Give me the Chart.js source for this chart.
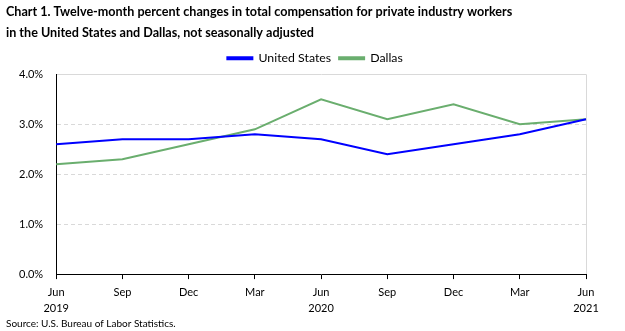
<!DOCTYPE html>
<html>
<head>
<meta charset="utf-8">
<script src="https://cdn.jsdelivr.net/npm/chart.js@4"></script>
<style>
  body { margin: 0; background: #fff; }
  #wrap { width: 625px; height: 331px; }
</style>
</head>
<body>
<div id="wrap"><canvas id="myChart" width="625" height="331"></canvas></div>
<script>
// x-axis categories (month, year line)
const months = ['Jun', 'Sep', 'Dec', 'Mar', 'Jun', 'Sep', 'Dec', 'Mar', 'Jun'];
const years = ['2019', '', '', '', '2020', '', '', '', '2021'];
// twelve-month percent changes
const unitedStates = [2.6, 2.7, 2.7, 2.8, 2.7, 2.4, 2.6, 2.8, 3.1];
const dallas = [2.2, 2.3, 2.6, 2.9, 3.5, 3.1, 3.4, 3.0, 3.1];

const labels = months.map((m, i) => [m, years[i]]);
const fontFam = "Lato, 'Open Sans', sans-serif";

// centre the legend over the plot area rather than the whole canvas
const legendShift = {
    id: 'legendShift',
    afterLayout(chart) {
        const l = chart.legend;
        const d = (chart.chartArea.left + chart.chartArea.right) / 2 - 6 - (l.left + l.right) / 2;
        l.left += d;
        l.right += d;
    }
};

const ctx = document.getElementById('myChart').getContext('2d');
new Chart(ctx, {
    type: 'line',
    data: {
        labels: labels,
        datasets: [{
            label: 'United States',
            data: unitedStates,
            borderColor: '#0000ff',
            backgroundColor: '#0000ff',
            borderWidth: 2,
            pointRadius: 0,
            tension: 0
        }, {
            label: 'Dallas',
            data: dallas,
            borderColor: '#6aae6e',
            backgroundColor: '#6aae6e',
            borderWidth: 2,
            pointRadius: 0,
            tension: 0
        }]
    },
    plugins: [legendShift],
    options: {
        responsive: false,
        animation: false,
        layout: { padding: { left: 6, right: 39, top: 0, bottom: 1 } },
        plugins: {
            title: {
                display: true,
                align: 'start',
                text: ['Chart 1. Twelve-month percent changes in total compensation for private industry workers',
                       'in the United States and Dallas, not seasonally adjusted'],
                font: { family: fontFam, size: 12.6, weight: 'bold', lineHeight: 1.67 },
                color: '#000',
                padding: { top: 1, bottom: 1 }
            },
            subtitle: {
                display: true,
                position: 'bottom',
                align: 'start',
                text: 'Source: U.S. Bureau of Labor Statistics.',
                font: { family: fontFam, size: 10 },
                color: '#000',
                padding: { top: -3, bottom: 0 }
            },
            legend: {
                labels: {
                    font: { family: fontFam, size: 12.3 },
                    color: '#000',
                    boxWidth: 25,
                    boxHeight: 2,
                    padding: 8
                }
            },
            tooltip: { enabled: false }
        },
        scales: {
            x: {
                grid: {
                    color: c => c.index === months.length - 1 ? '#d9d9d9' : 'rgba(0,0,0,0)',
                    tickColor: '#000',
                    tickLength: 5,
                    lineWidth: 1
                },
                border: { display: true, color: '#000', width: 1 },
                ticks: {
                    font: { family: fontFam, size: 11, lineHeight: 1.45 },
                    color: '#000',
                    maxRotation: 0,
                    autoSkip: false,
                    padding: 5
                }
            },
            y: {
                min: 0,
                max: 4,
                grid: {
                    color: '#d9d9d9',
                    drawTicks: false
                },
                border: {
                    display: true,
                    color: '#000',
                    width: 1,
                    dash: c => (c.tick && c.tick.value === 4) ? [] : [4, 3]
                },
                ticks: {
                    stepSize: 1,
                    font: { family: fontFam, size: 11 },
                    color: '#000',
                    padding: 13,
                    callback: v => v.toFixed(1) + '%'
                }
            }
        }
    }
});
</script>
</body>
</html>
